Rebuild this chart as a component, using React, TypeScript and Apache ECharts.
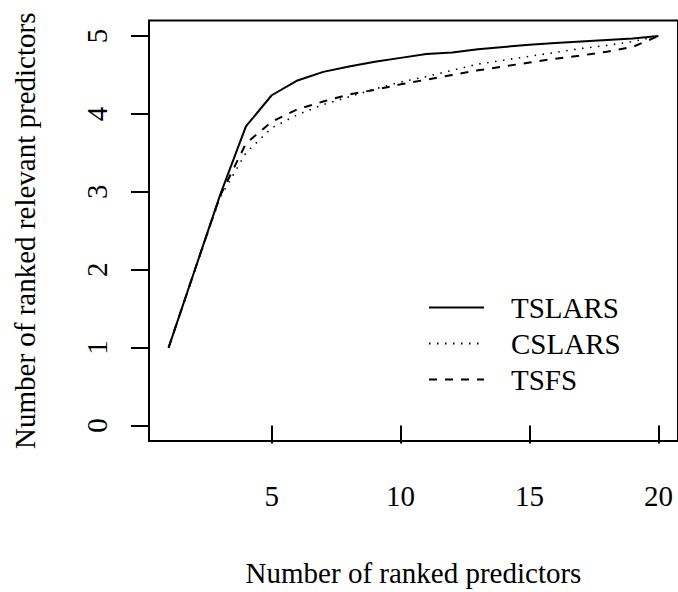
import React, { useEffect, useRef } from "react";
import * as echarts from "echarts";

const xValues = [1, 2, 3, 4, 5, 6, 7, 8, 9, 10, 11, 12, 13, 14, 15, 16, 17, 18, 19, 20];
const tslars = [1, 1.98, 2.96, 3.84, 4.24, 4.43, 4.54, 4.61, 4.67, 4.72, 4.77, 4.79, 4.83, 4.86, 4.89, 4.91, 4.93, 4.95, 4.97, 5];
const cslars = [1, 1.97, 2.93, 3.5, 3.82, 3.99, 4.12, 4.22, 4.32, 4.41, 4.48, 4.56, 4.64, 4.69, 4.74, 4.79, 4.84, 4.88, 4.93, 5];
const tsfs = [1, 1.98, 2.95, 3.62, 3.9, 4.06, 4.16, 4.25, 4.31, 4.38, 4.44, 4.5, 4.56, 4.61, 4.66, 4.71, 4.75, 4.8, 4.86, 5];
const xTicks = [5, 10, 15, 20];
const yTicks = [0, 1, 2, 3, 4, 5];
const seriesNames = ["TSLARS", "CSLARS", "TSFS"];

const FONT = "'Liberation Serif', 'Times New Roman', serif";
const FS = 29;

export default function App() {
  const ref = useRef<HTMLDivElement>(null);
  useEffect(() => {
    document.body.style.margin = "0";
    const chart = echarts.init(ref.current!, null, { renderer: "svg" });
    const toPairs = (ys: number[]) => xValues.map((x, i) => [x, ys[i]]);
    chart.setOption({
      animation: false,
      backgroundColor: "#fff",
      grid: {
        left: 149,
        top: 20.5,
        width: 530.6,
        height: 422.9,
        show: true,
        borderColor: "#000",
        borderWidth: 2,
        backgroundColor: "transparent",
      },
      legend: {
        orient: "vertical",
        left: 428,
        top: 293,
        padding: 0,
        itemWidth: 55,
        itemHeight: 29,
        itemGap: 7,
        data: seriesNames,
        itemStyle: { opacity: 0 },
        textStyle: {
          fontFamily: FONT,
          fontSize: FS,
          color: "#000",
          lineHeight: 29,
          padding: [0, 0, 0, 22],
        },
      },
      xAxis: {
        type: "value",
        min: 0.24,
        max: 20.76,
        name: "Number of ranked predictors",
        nameLocation: "middle",
        nameGap: 117,
        nameTextStyle: { fontFamily: FONT, fontSize: FS, color: "#000" },
        axisLine: { show: false },
        splitLine: { show: false },
        axisTick: {
          show: true,
          length: 18,
          customValues: xTicks,
          lineStyle: { color: "#000", width: 2 },
        },
        axisLabel: {
          customValues: xTicks,
          margin: 40,
          fontFamily: FONT,
          fontSize: FS,
          color: "#000",
        },
      },
      yAxis: {
        type: "value",
        min: -0.2,
        max: 5.2,
        name: "Number of ranked relevant predictors",
        nameLocation: "middle",
        nameGap: 110,
        nameRotate: 90,
        nameTextStyle: { fontFamily: FONT, fontSize: FS, color: "#000" },
        axisLine: { show: false },
        splitLine: { show: false },
        axisTick: {
          show: true,
          length: 18,
          customValues: yTicks,
          lineStyle: { color: "#000", width: 2 },
        },
        axisLabel: {
          customValues: yTicks,
          rotate: 90,
          margin: 38,
          fontFamily: FONT,
          fontSize: FS,
          color: "#000",
        },
      },
      series: [
        {
          name: seriesNames[0],
          type: "line",
          data: toPairs(tslars),
          showSymbol: false,
          symbol: "none",
          color: "#000",
          lineStyle: { color: "#000", width: 2, type: "solid" },
        },
        {
          name: seriesNames[1],
          type: "line",
          data: toPairs(cslars),
          showSymbol: false,
          symbol: "none",
          color: "#000",
          lineStyle: { color: "#000", width: 1.6, type: [1.5, 6.5] },
        },
        {
          name: seriesNames[2],
          type: "line",
          data: toPairs(tsfs),
          showSymbol: false,
          symbol: "none",
          color: "#000",
          lineStyle: { color: "#000", width: 2, type: [8, 8] },
        },
      ],
    });
    return () => chart.dispose();
  }, []);
  return <div ref={ref} style={{ width: 678, height: 592 }} />;
}
